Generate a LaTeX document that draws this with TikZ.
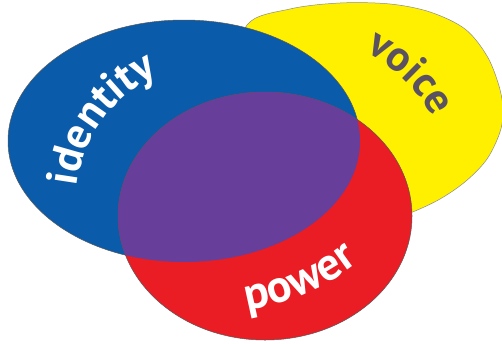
\documentclass[tikz,border=0pt]{standalone}
\usepackage{fontspec}
\usetikzlibrary{decorations.text}
\newfontfamily\ptsans{PT Sans}
\definecolor{cyellow}{HTML}{FFF000}
\definecolor{cblue}{HTML}{0A5BAA}
\definecolor{cred}{HTML}{EA1C24}
\definecolor{cpurple}{HTML}{673E99}
\definecolor{cvoice}{HTML}{5A5262}
\newcommand\wordfont{\ptsans\bfseries\fontsize{44}{50}\selectfont}
\newcommand\powerfont{\ptsans\bfseries\fontsize{46}{52}\selectfont}
\newcommand\voicefont{\ptsans\bfseries\fontsize{43}{48}\selectfont}
\begin{document}
\begin{tikzpicture}[x=1pt,y=-1pt]
\tikzset{
  outline/.style={draw=black!65, line width=0.5pt},
  blueshape/.style={fill=cblue, outline},
  redshape/.style={fill=cred, outline},
  yellowshape/.style={fill=cyellow, draw=black!45, line width=0.5pt},
}
\fill[white] (0,0) rectangle (502,343);
\useasboundingbox (0,0) rectangle (502,343);
% yellow
\path[yellowshape] plot[smooth cycle, tension=0.55] coordinates {
  (247,25) (290,9) (340,3) (390,4) (430,12) (465,29) (487,56) (499,86)
  (503,110) (500,132) (487,159) (466,181) (440,199) (410,213)
  (380,222) (330,220) (280,190) (250,140) (238,80)};
% blue
\path[blueshape] (184,141) ellipse [x radius=176pt, y radius=121pt];
% red
\path[redshape] (265,216) ellipse [x radius=147pt, y radius=124pt];
% purple overlap
\begin{scope}
  \clip (184,141) ellipse [x radius=176pt, y radius=121pt];
  \fill[cpurple] (265,216) ellipse [x radius=147pt, y radius=124pt];
\end{scope}
% texts
\path[decorate, decoration={text along path, text align=center, text color=white,
  text={|\wordfont|identity}}]
  (84.4,249.9) arc[start angle=200, end angle=88, radius=140pt];
\path[decorate, decoration={text along path, text align=center, text color=cvoice,
  text={|\voicefont|voice}}]
  (348.2,45.2) arc[start angle=71, end angle=21, radius=151pt];
\path[decorate, decoration={text along path, text align=center, text color=white,
  text={|\powerfont|power}}]
  (222.1,313.5) arc[start angle=-86.5, end angle=-46.5, radius=248pt];
\end{tikzpicture}
\end{document}
